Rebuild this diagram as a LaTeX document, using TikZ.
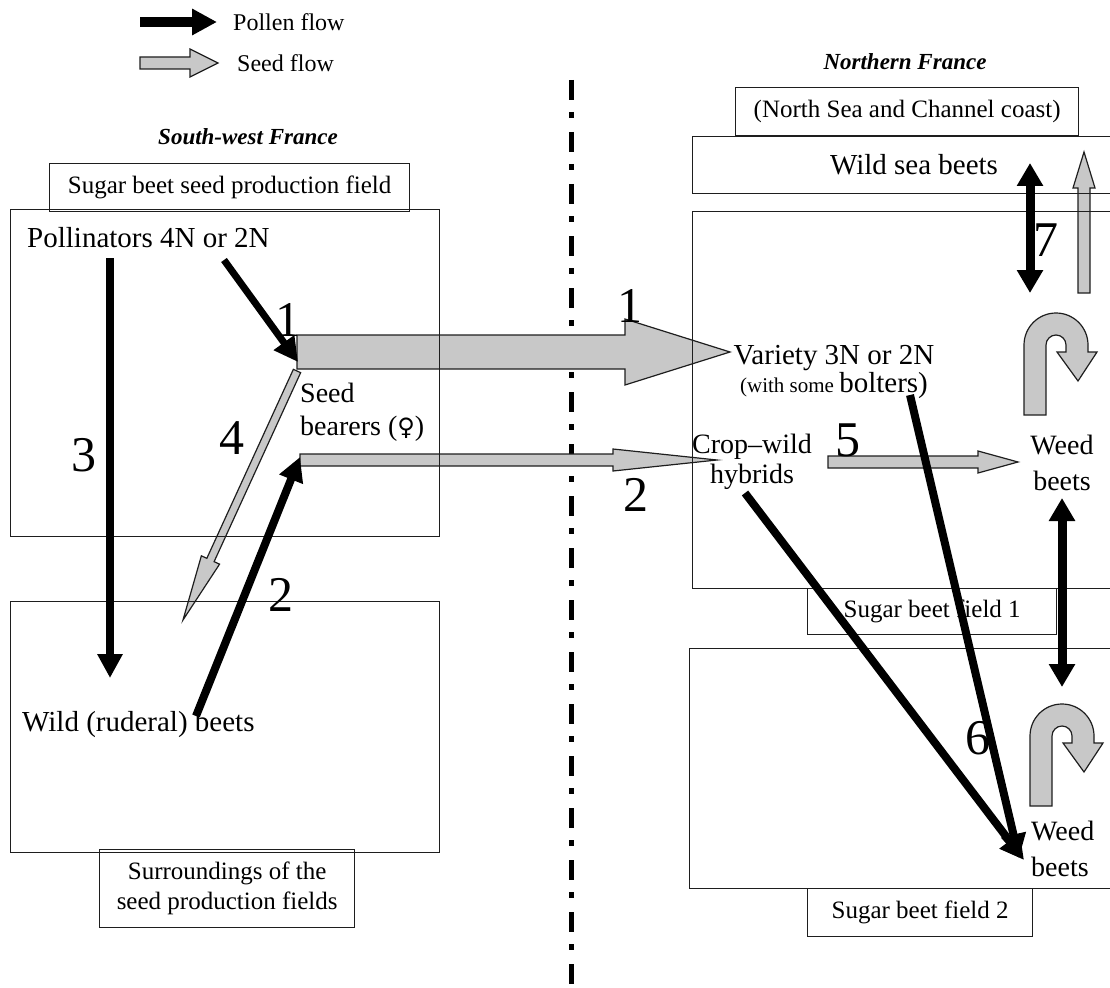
\documentclass[tikz,border=0pt]{standalone}
\usepackage{fontspec}
\setmainfont{Liberation Serif}
\newfontfamily\tms{Liberation Serif}
\newfontfamily\symfnt{DejaVu Sans}
\usetikzlibrary{arrows.meta,calc}
\definecolor{seedgray}{RGB}{200,200,200}
\definecolor{linegray}{RGB}{30,30,30}
\newcommand\fsMain{\tms\fontsize{29pt}{34pt}\selectfont}
\newcommand\fsTwo{\tms\fontsize{28pt}{33pt}\selectfont}
\newcommand\fsLab{\tms\fontsize{25pt}{30pt}\selectfont}
\newcommand\fsLeg{\tms\fontsize{24pt}{28pt}\selectfont}
\newcommand\fsHead{\tms\fontsize{23pt}{28pt}\selectfont\bfseries\itshape}
\newcommand\fsNum{\tms\fontsize{50pt}{56pt}\selectfont}
\newcommand\fsSmall{\tms\fontsize{21pt}{25pt}\selectfont}
% block arrow: #1 start, #2 end, #3 shaft half width, #4 head half width, #5 head length
\newcommand\seedarr[5]{%
  \path ($(#2)!#5!(#1)$) coordinate (hb);
  \draw[seedstyle] ($(#1)!#3!90:(#2)$) -- ($(hb)!#3!90:(#2)$) -- ($(hb)!#4!90:(#2)$) -- (#2)
     -- ($(hb)!#4!-90:(#2)$) -- ($(hb)!#3!-90:(#2)$) -- ($(#1)!#3!-90:(#2)$) -- cycle;}
\begin{document}
\begin{tikzpicture}[x=1pt,y=-1pt,
  seedstyle/.style={draw=linegray, line width=1.2pt, fill=seedgray, line join=miter},
  fieldbox/.style={draw=linegray, line width=1.3pt, inner sep=0pt, anchor=north west},
  labbox/.style={draw=linegray, line width=1.3pt, inner sep=0pt, anchor=north west, font=\fsLab, align=center},
  pollen/.style={line width=8pt, -{Triangle[length=24pt,width=24pt]}},
  pollen2/.style={line width=9pt, {Triangle[length=23pt,width=25pt]}-{Triangle[length=23pt,width=25pt]}},
  txt/.style={font=\fsMain, inner sep=0pt},
  num/.style={font=\fsNum, inner sep=0pt},
  uturn/.pic={
    \draw[seedstyle] (-32,70) -- (-32,0) arc[start angle=180,end angle=360,radius=32]
      -- (32,7) -- (41,7) -- (22,36) -- (1,7) -- (10,7) -- (10,0)
      arc[start angle=0,end angle=-180,radius=10] -- (-10,70) -- cycle;
  }]
\useasboundingbox (0,0) rectangle (1110,987);
\clip (0,0) rectangle (1110,987);

% ---------- coordinates ----------
\coordinate (dtop) at (571,80);
\coordinate (dbot) at (571,992);
\coordinate (lp1) at (140,22);  \coordinate (lp2) at (217,22);
\coordinate (ls1) at (140,63);  \coordinate (ls2) at (218,63);
\coordinate (s1a) at (297,352); \coordinate (s1b) at (730,352);
\coordinate (s2a) at (300,460); \coordinate (s2b) at (717,460);
\coordinate (s4a) at (297,371); \coordinate (s4b) at (183,620);
\coordinate (s5a) at (828,462); \coordinate (s5b) at (1018,462);
\coordinate (s7a) at (1084,293); \coordinate (s7b) at (1084,152);
\coordinate (p1a) at (224,260); \coordinate (p1b) at (298,362);
\coordinate (p3a) at (110,258); \coordinate (p3b) at (110,678);
\coordinate (p2a) at (196,716); \coordinate (p2b) at (300,457);
\coordinate (p7a) at (1030,163); \coordinate (p7b) at (1030,293);
\coordinate (pwa) at (1062,498); \coordinate (pwb) at (1062,687);
\coordinate (p6a) at (745,493); \coordinate (p6b) at (1024,860);
\coordinate (p6c) at (910,395); \coordinate (p6d) at (1019,858);

% ---------- dash-dot border ----------
\draw[line width=5pt, dash pattern=on 20pt off 12pt on 6pt off 14pt] (dtop) -- (dbot);

% ---------- legend ----------
\draw[line width=10pt, -{Triangle[length=25pt,width=25pt]}] (lp1) -- (lp2);
\seedarr{ls1}{ls2}{6pt}{14pt}{28pt}
\node[font=\fsLeg, anchor=west, inner sep=0pt] (legP) at (233,22) {Pollen flow};
\node[font=\fsLeg, anchor=west, inner sep=0pt] (legS) at (237,63) {Seed flow};

% ---------- seed flows ----------
\seedarr{s1a}{s1b}{17pt}{33pt}{105pt}
\seedarr{s2a}{s2b}{6pt}{11pt}{104pt}
\seedarr{s4a}{s4b}{4pt}{10pt}{66pt}
\seedarr{s5a}{s5b}{6pt}{11pt}{40pt}
\seedarr{s7a}{s7b}{6pt}{11pt}{36pt}
\pic at (1056,345) {uturn};
\pic at (1062,736) {uturn};

% ---------- boxes ----------
\node[fieldbox, minimum width=429pt, minimum height=327pt] (upL) at (10,209) {};
\node[fieldbox, minimum width=429pt, minimum height=251pt] (loL) at (10,601) {};
\node[labbox, minimum width=360pt, minimum height=48pt] (labL1) at (49,163) {Sugar beet seed production field};
\node[labbox, minimum width=255pt, minimum height=78pt] (labL2) at (99,849) {Surroundings of the\\seed production fields};
\node[labbox, minimum width=343pt, minimum height=48pt] (labR0) at (735,87) {(North Sea and Channel coast)};
\node[fieldbox, minimum width=430pt, minimum height=57pt] (seaR) at (692,136) {};
\node[fieldbox, minimum width=430pt, minimum height=377pt] (f1R) at (692,211) {};
\node[labbox, minimum width=249pt, minimum height=46pt] (labR1) at (807,588) {Sugar beet field 1};
\node[fieldbox, minimum width=433pt, minimum height=240pt] (f2R) at (689,648) {};
\node[labbox, minimum width=225pt, minimum height=48pt] (labR2) at (807,888) {Sugar beet field 2};

% ---------- headers ----------
\node[font=\fsHead, inner sep=0pt] (hSW) at (248,137) {South-west France};
\node[font=\fsHead, inner sep=0pt] (hN) at (905,62) {Northern France};

% ---------- texts ----------
\node[txt, anchor=west] (poll) at (27,238) {Pollinators 4N or 2N};
\node[txt, anchor=west] (wild) at (22,725) {Wild (ruderal) beets};
\node[txt, anchor=west, align=left, font=\fsTwo] (seedb) at (300,412) {Seed\\bearers ({\symfnt\fontsize{24pt}{28pt}\selectfont ♀})};
\node[txt] (sea) at (914,165) {Wild sea beets};
\node[txt] (var) at (834,358) {Variety 3N or 2N};
\node[txt] (bolt) at (834,386) {{\fsSmall(with some }bolters)};
\node[txt, align=center, font={\tms\fontsize{28pt}{30pt}\selectfont}] (hyb) at (752,462) {Crop–wild\\hybrids};
\node[txt, align=center, font={\tms\fontsize{28pt}{36pt}\selectfont}] (weed1) at (1062,463) {Weed\\beets};
\node[txt, anchor=west, align=left, font={\tms\fontsize{28pt}{36pt}\selectfont}] (weed2) at (1031,849) {Weed\\beets};

% ---------- numbers ----------
\node[num] (n1L) at (288,320) {1};
\node[num] (n3) at (84,455) {3};
\node[num] (n4) at (232,438) {4};
\node[num] (n2L) at (281,595) {2};
\node[num] (n1R) at (630,306) {1};
\node[num] (n2R) at (636,495) {2};
\node[num] (n5) at (848,440) {5};
\node[num] (n6) at (978,738) {6};
\node[num] (n7) at (1046,240) {7};

% ---------- pollen flows ----------
\draw[pollen, line width=7pt] (p1a) -- (p1b);
\draw[pollen] (p3a) -- (p3b);
\draw[pollen] (p2a) -- (p2b);
\draw[pollen2] (p7a) -- (p7b);
\draw[pollen2] (pwa) -- (pwb);
\draw[pollen] (p6a) -- (p6b);
\draw[pollen] (p6c) -- (p6d);
\end{tikzpicture}
\end{document}
